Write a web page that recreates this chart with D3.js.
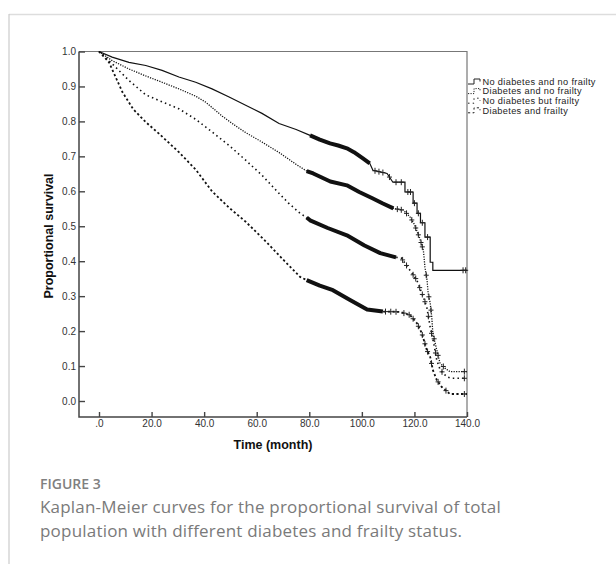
<!DOCTYPE html>
<html>
<head>
<meta charset="utf-8">
<script src="https://cdn.jsdelivr.net/npm/d3@7"></script>
<style>
  body { margin: 0; background: #fff; }
  svg { display: block; }
</style>
</head>
<body>
<div id="main"></div>
<script>
// Kaplan-Meier curves, [month, proportion surviving]
var noDiabNoFrail = [[0,1],[5,0.984],[11.4,0.969],[17.8,0.96],[24,0.946],[30.4,0.927],[36.8,0.912],[43,0.893],[49.5,0.87],[55.8,0.846],[62,0.823],[68.5,0.794],[75,0.777],[80.3,0.76],[84,0.748],[87.9,0.737],[91,0.731],[94.3,0.723],[97,0.712],[100.4,0.694],[103,0.68],[104.2,0.66],[109.6,0.651],[111.8,0.626],[116.4,0.626],[116.4,0.598],[119.5,0.598],[119.5,0.566],[121,0.566],[121,0.537],[122.3,0.537],[122.3,0.51],[124,0.51],[124,0.469],[126,0.469],[126,0.397],[127,0.397],[127,0.374],[140,0.374]];
var diabNoFrail = [[0,1],[5,0.974],[11.4,0.95],[17.8,0.93],[24,0.912],[30.4,0.893],[36.8,0.872],[40.6,0.855],[46.9,0.815],[52,0.787],[55.8,0.768],[62,0.741],[68.5,0.711],[75,0.677],[79,0.658],[81.5,0.651],[88,0.628],[94.3,0.617],[99,0.598],[104,0.58],[108,0.565],[112,0.551],[115.8,0.546],[118.3,0.527],[120,0.505],[121,0.485],[122,0.466],[123.4,0.431],[124,0.383],[124.8,0.346],[125.2,0.309],[126,0.28],[126.6,0.24],[127,0.194],[128.5,0.146],[129.7,0.109],[131.6,0.094],[133.5,0.084],[140,0.084]];
var noDiabFrail = [[0,1],[5,0.965],[11.4,0.917],[17.8,0.876],[24,0.856],[30.4,0.836],[36.8,0.806],[43,0.77],[49.5,0.731],[55.8,0.689],[62,0.646],[68.5,0.594],[72,0.567],[76.5,0.537],[79,0.525],[80.3,0.517],[87,0.495],[94.3,0.474],[101,0.445],[107,0.423],[113,0.411],[115,0.409],[118.3,0.374],[120.9,0.346],[123.4,0.297],[124.7,0.269],[126,0.211],[127.3,0.166],[128.5,0.117],[129.8,0.089],[132.3,0.069],[134,0.065],[140,0.065]];
var diabFrail = [[0,1],[3.8,0.969],[8.9,0.884],[13,0.835],[17.8,0.798],[22.8,0.765],[30.4,0.712],[36.8,0.662],[43,0.6],[49.5,0.553],[55.8,0.513],[63.4,0.457],[70,0.405],[76.5,0.355],[79,0.346],[84,0.33],[89,0.317],[95.5,0.289],[102,0.262],[108,0.256],[114.5,0.255],[118.3,0.246],[120.9,0.223],[122.8,0.194],[124.7,0.146],[126,0.126],[127,0.089],[128.5,0.06],[130.4,0.04],[133.5,0.02],[140,0.02]];

// censored cases: a dense band (drawn thick) and single marks in the tails
var denseRanges = [[80,104],[79,113],[79,114],[79,110]];
var censorTimes = [
  [105,106.5,108,110.5,113,115,117.5,118.5,120,121.5,123,125,138.5,139.5],
  [113.5,115,117,119,120.5,121.5,122.5,123,124.5,125.5,126.3,127.5,129,131,139],
  [115.5,117,119.5,120.5,122,123,124,125.3,126.5,128,130.5,139],
  [109,111,113,116,118,119.5,121.5,123,124,125,126.5,129,132,139]
];

var groupNames = ["No diabetes and no frailty", "Diabetes and no frailty", "No diabetes but frailty", "Diabetes and frailty"];
var yTicks = [0, 0.1, 0.2, 0.3, 0.4, 0.5, 0.6, 0.7, 0.8, 0.9, 1.0];
var xTicks = [0, 20, 40, 60, 80, 100, 120, 140];

var curves = [noDiabNoFrail, diabNoFrail, noDiabFrail, diabFrail];
var dashes = [null, "1.2,1.3", "1.5,3.2", "2.2,2.4"];
var widths = [1.2, 1.3, 1.6, 1.8];

var svg = d3.select("#main").append("svg")
  .attr("width", 616)
  .attr("height", 564);

// card border
svg.append("line").attr("x1", 9).attr("x2", 616).attr("y1", 14.5).attr("y2", 14.5)
  .style("stroke", "#ddd").style("stroke-width", 1.5);
svg.append("line").attr("x1", 9).attr("x2", 9).attr("y1", 14).attr("y2", 564)
  .style("stroke", "#ccc").style("stroke-width", 1.2);

var x = d3.scaleLinear().domain([0, 140]).range([99, 467]);
var y = d3.scaleLinear().domain([0, 1]).range([401, 51.5]);

var frameL = 79, frameT = 51.5, frameR = 467, frameB = 417;

// frame top and right
svg.append("path")
  .attr("d", "M" + frameL + "," + frameT + "H" + frameR + "V" + frameB)
  .style("fill", "none").style("stroke", "#777").style("stroke-width", 1.2);

var yAxis = svg.append("g")
  .attr("transform", "translate(" + frameL + ",0)")
  .call(d3.axisLeft(y).tickValues(yTicks).tickFormat(d3.format(".1f")).tickSizeInner(-6).tickSizeOuter(0).tickPadding(3));
yAxis.select(".domain").remove();

var xAxis = svg.append("g")
  .attr("transform", "translate(0," + frameB + ")")
  .call(d3.axisBottom(x).tickValues(xTicks)
    .tickFormat(function(d) { return d === 0 ? ".0" : d3.format(".1f")(d); })
    .tickSizeInner(-5).tickSizeOuter(0).tickPadding(3));
xAxis.select(".domain").remove();

// axis lines
svg.append("path")
  .attr("d", "M" + frameL + "," + frameT + "V" + frameB + "H" + frameR)
  .style("fill", "none").style("stroke", "#444").style("stroke-width", 1.5);

svg.selectAll(".tick line").style("stroke", "#444").style("stroke-width", 1.4);
svg.selectAll(".tick text")
  .style("font-family", "Arial, 'Liberation Sans', sans-serif")
  .style("font-size", "10px")
  .style("fill", "#333");
xAxis.selectAll(".tick text").attr("dy", "0.71em");

// axis titles
svg.append("text")
  .attr("x", 273).attr("y", 449)
  .attr("text-anchor", "middle")
  .style("font-family", "Arial, 'Liberation Sans', sans-serif")
  .style("font-weight", "bold").style("font-size", "12.5px").style("fill", "#111")
  .text("Time (month)");
svg.append("text")
  .attr("transform", "translate(53,236) rotate(-90)")
  .attr("text-anchor", "middle")
  .style("font-family", "Arial, 'Liberation Sans', sans-serif")
  .style("font-weight", "bold").style("font-size", "12.5px").style("fill", "#111")
  .text("Proportional survival");

var line = d3.line()
  .x(function(d) { return x(d[0]); })
  .y(function(d) { return y(d[1]); });

// value of a curve at time t, used to sit censor marks on the line
function survivalAt(curve, t) {
  var i = d3.bisector(function(d) { return d[0]; }).right(curve, t) - 1;
  if (i >= curve.length - 1) return curve[curve.length - 1][1];
  var a = curve[i], b = curve[i + 1];
  if (b[0] === a[0]) return b[1];
  return a[1] + (b[1] - a[1]) * (t - a[0]) / (b[0] - a[0]);
}

curves.forEach(function(curve, k) {
  svg.append("path")
    .datum(curve)
    .attr("d", line)
    .style("fill", "none")
    .style("stroke", "#111")
    .style("stroke-width", widths[k])
    .style("stroke-dasharray", dashes[k]);

  // dense censoring band
  var band = curve.filter(function(d) { return d[0] >= denseRanges[k][0] && d[0] <= denseRanges[k][1]; });
  svg.append("path")
    .datum(band)
    .attr("d", line)
    .style("fill", "none")
    .style("stroke", "#111")
    .style("stroke-width", 4)
    .style("stroke-linejoin", "round");

  // single censor marks
  censorTimes[k].forEach(function(t) {
    var cx = x(t), cy = y(survivalAt(curve, t));
    svg.append("path")
      .attr("d", "M" + (cx - 2.5) + "," + cy + "h5M" + cx + "," + (cy - 3) + "v6")
      .style("stroke", "#222")
      .style("stroke-width", 1);
  });
});

// legend
var legend = svg.append("g").attr("transform", "translate(467,81.5)");
groupNames.forEach(function(name, k) {
  var g = legend.append("g").attr("transform", "translate(0," + (k * 9.6) + ")");
  g.append("path")
    .attr("d", "M1,2.5H7V-2.5H13V0")
    .style("fill", "none")
    .style("stroke", "#222")
    .style("stroke-width", 1)
    .style("stroke-dasharray", dashes[k]);
  g.append("text")
    .attr("x", 15.5).attr("y", 0).attr("dy", "0.35em")
    .style("font-family", "Arial, 'Liberation Sans', sans-serif")
    .style("font-size", "9.2px").style("letter-spacing", "0.35px").style("fill", "#222")
    .text(name);
});

// caption
svg.append("text")
  .attr("x", 40).attr("y", 489)
  .style("font-family", "'Open Sans', sans-serif")
  .style("font-weight", 600).style("font-size", "14px").style("fill", "#808080")
  .text("FIGURE 3");
var caption = ["Kaplan-Meier curves for the proportional survival of total",
  "population with different diabetes and frailty status."];
caption.forEach(function(s, i) {
  svg.append("text")
    .attr("x", 40).attr("y", 513 + i * 24)
    .style("font-family", "'Open Sans', sans-serif")
    .style("font-size", "17px").style("letter-spacing", "0.2px").style("fill", "#7a7a7a")
    .text(s);
});
</script>
</body>
</html>
